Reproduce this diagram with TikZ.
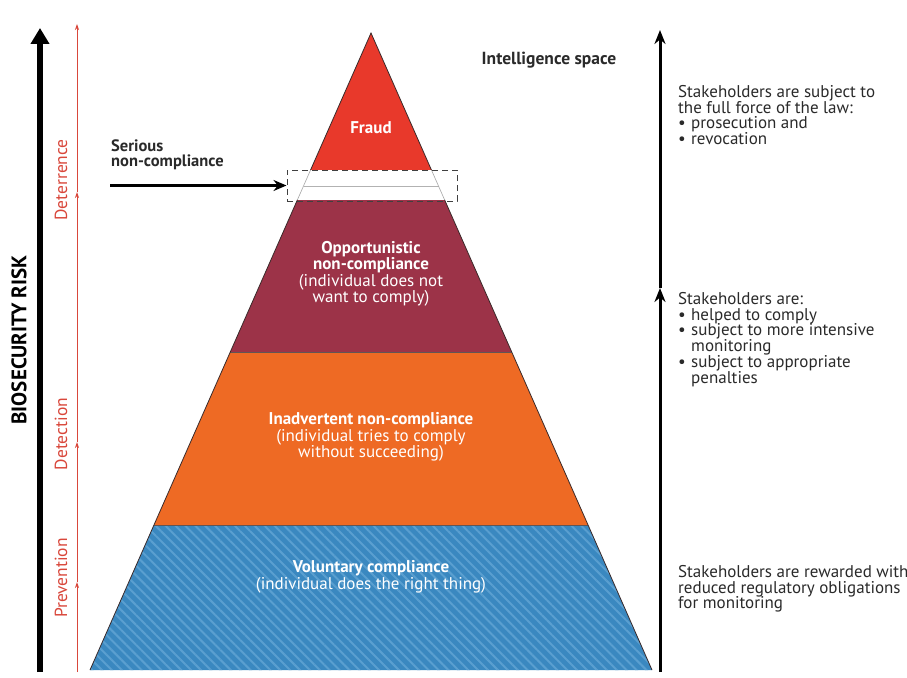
\documentclass[tikz,border=0pt]{standalone}
\usepackage{fontspec}
\setmainfont{PT Sans}
\usetikzlibrary{arrows.meta,patterns.meta}
\definecolor{fraudc}{HTML}{E8392B}
\definecolor{oppc}{HTML}{9C3348}
\definecolor{inadc}{HTML}{EE6A24}
\definecolor{volc}{HTML}{3A88C0}
\definecolor{volstripe}{HTML}{5A9FD0}
\definecolor{redline}{HTML}{D9473B}
\definecolor{txt}{HTML}{2A2A2A}
\definecolor{edge}{HTML}{3A2A2A}
\tikzset{
  layertext/.style={align=center, text=white, font=\fontsize{17}{16.5}\selectfont},
  sidetext/.style={align=left, anchor=north west, text=txt, inner sep=0pt, font=\fontsize{17}{15.8}\selectfont},
  redtext/.style={text=redline, rotate=90, font=\fontsize{17.5}{18}\selectfont},
  redarrow/.style={draw=redline, line width=0.8pt, -{Stealth[length=6pt,width=4pt]}},
  bigarrow/.style={draw=black, line width=6pt, -{Triangle[length=16pt,width=18pt]}},
  midarrow/.style={draw=black, line width=3pt, -{Stealth[length=14pt,width=11pt]}},
}
\newcommand{\bul}{\makebox[13pt][l]{\textbullet}}
\begin{document}
\begin{tikzpicture}[x=1pt,y=-1pt]
\useasboundingbox (0,0) rectangle (907,677);
\fill[white] (0,0) rectangle (907,677);
% pyramid layers
\coordinate (apex) at (371,33);
\fill[fraudc] (apex) -- (431.44,170) -- (310.56,170) -- cycle;
\fill[white] (310.56,170) -- (431.44,170) -- (444.67,200) -- (297.33,200) -- cycle;
\draw[gray!60, line width=0.6pt] (303.5,186) -- (438.5,186);
\fill[oppc] (297.33,200) -- (444.67,200) -- (511.72,352) -- (230.28,352) -- cycle;
\fill[inadc] (230.28,352) -- (511.72,352) -- (588.04,525) -- (153.96,525) -- cycle;
\fill[volc] (153.96,525) -- (588.04,525) -- (652,670) -- (90,670) -- cycle;
\fill[pattern={Lines[angle=-45,distance=7pt,line width=2pt]}, pattern color=volstripe]
  (153.96,525) -- (588.04,525) -- (652,670) -- (90,670) -- cycle;
\draw[edge!80, line width=0.5pt] (230.28,352) -- (511.72,352);
\draw[edge!80, line width=0.5pt] (153.96,525) -- (588.04,525);
\draw[edge, line width=0.8pt] (310.56,170) -- (apex) -- (431.44,170);
\draw[gray!70, line width=0.6pt] (310.56,170) -- (297.33,200) (431.44,170) -- (444.67,200);
\draw[edge, line width=0.8pt] (297.33,200) -- (90,670) (444.67,200) -- (652,670);
% dashed box
\node[draw=black!75, dashed, dash pattern=on 6pt off 4pt, line width=1pt, minimum width=170pt, minimum height=31pt, inner sep=0pt] (serbox) at (372,185.5) {};
% layer labels
\node[layertext] (fraud) at (371,128) {\bfseries Fraud};
\node[layertext] (opp) at (371,274) {\bfseries Opportunistic\\\bfseries non-compliance\\(individual does not\\want to comply)};
\node[layertext] (inad) at (371,437) {\bfseries Inadvertent non-compliance\\(individual tries to comply\\without succeeding)};
\node[layertext] (vol) at (371,577) {\bfseries Voluntary compliance\\(individual does the right thing)};
% serious non-compliance
\node[align=left, anchor=south west, inner sep=0pt, text=txt, font=\bfseries\fontsize{16.5}{15}\selectfont] (serious) at (111,170) {Serious\\non-compliance};
\coordinate (serstart) at (110,185.5);
\draw[line width=3pt, -{Stealth[length=13pt,width=11pt]}] (serstart) -- (serbox.west);
% intelligence space
\node[font=\bfseries\fontsize{17.5}{18}\selectfont, text=txt] (intel) at (549,60) {Intelligence space};
% left axis
\coordinate (lb) at (40,672);
\coordinate (lt) at (40,28);
\draw[bigarrow] (lb) -- (lt);
\node[rotate=90, font=\bfseries\fontsize{21}{22}\selectfont, text=black] (bio) at (19,340) {BIOSECURITY RISK};
% red axis
\coordinate (r0) at (77,672);
\coordinate (r1) at (77,582);
\coordinate (r2) at (77,442);
\coordinate (r3) at (77,192);
\coordinate (r4) at (77,24);
\draw[redarrow] (r0) -- (r1);
\draw[redarrow] (r1) -- (r2);
\draw[redarrow] (r2) -- (r3);
\draw[redarrow] (r3) -- (r4);
\node[redtext] (det) at (61,180) {Deterrence};
\node[redtext] (detc) at (61,434) {Detection};
\node[redtext] (prev) at (61,578) {Prevention};
% right axis
\coordinate (rb) at (660,672);
\coordinate (rm) at (660,288);
\coordinate (rt) at (660,30);
\draw[midarrow] (rb) -- (rm);
\draw[midarrow] (rm) -- (rt);
% right texts
\node[sidetext] (t1) at (678,85) {Stakeholders are subject to\\the full force of the law:\\\bul prosecution and\\\bul revocation};
\node[sidetext] (t2) at (678,292) {Stakeholders are:\\\bul helped to comply\\\bul subject to more intensive\\\hspace*{13pt}monitoring\\\bul subject to appropriate\\\hspace*{13pt}penalties};
\node[sidetext] (t3) at (678,565) {Stakeholders are rewarded with\\reduced regulatory obligations\\for monitoring};
\end{tikzpicture}
\end{document}
